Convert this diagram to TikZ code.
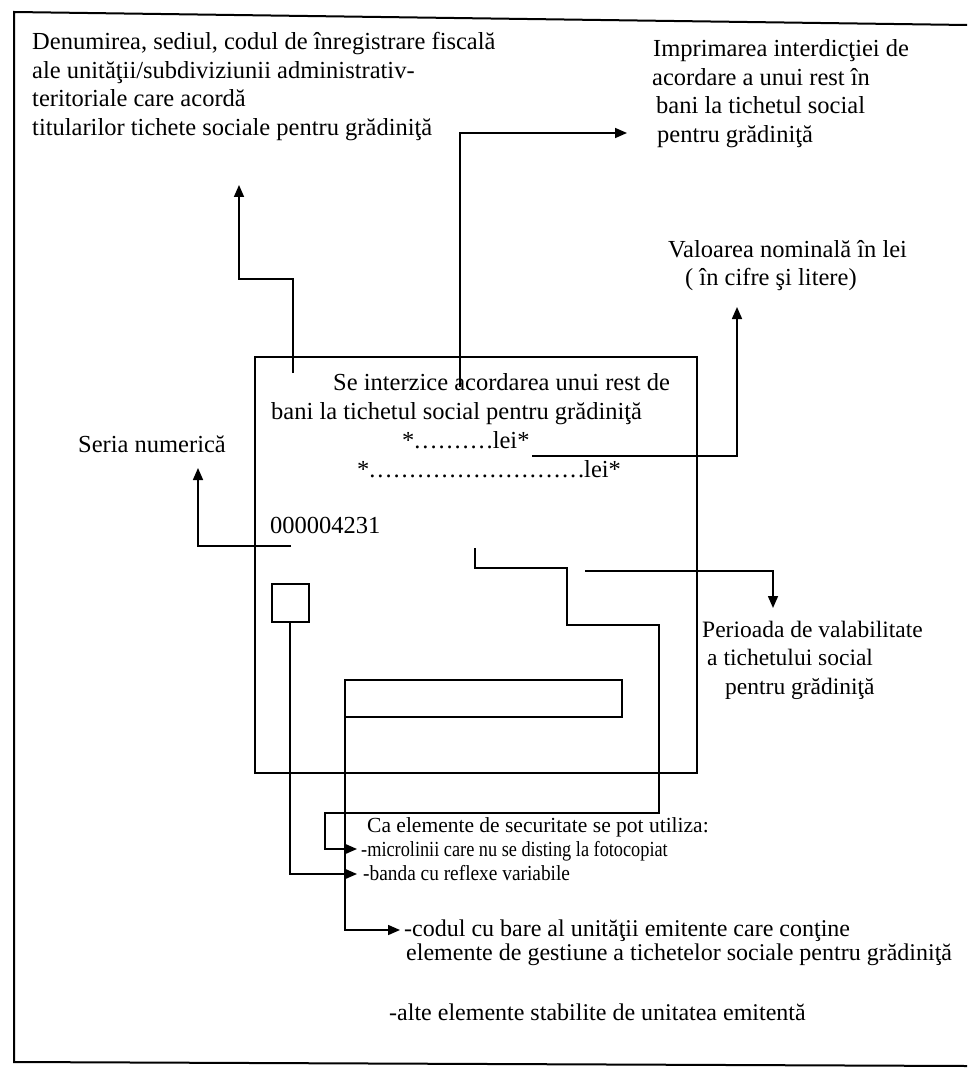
\documentclass[tikz,border=0pt]{standalone}
\usepackage{fontspec}
\usepackage{graphicx}
\setmainfont{Liberation Serif}
\usetikzlibrary{arrows.meta}
\newcommand{\dt}{.\kern1.9pt}
\begin{document}
\begin{tikzpicture}[x=1pt,y=-1pt,
 lbl/.style={anchor=base west,inner sep=0pt,font=\fontsize{24.5}{29}\selectfont},
 lblm/.style={lbl,font=\fontsize{23.5}{28}\selectfont},
 lblb/.style={lbl,font=\fontsize{21.5}{26}\selectfont},
 lblc/.style={lbl,font=\fontsize{24}{28}\selectfont},
 conn/.style={line width=1.6pt},
 arr/.style={conn,-{Triangle[length=12pt,width=10pt]}},
 framel/.style={line width=2pt},
 boxl/.style={line width=2pt},
]
\useasboundingbox (0,0) rectangle (967,1075);
% outer frame (open on the right)
\draw[framel] (967,25) -- (14,12) -- (14,1062) -- (967,1066);

% ticket
\draw[boxl] (255,357) rectangle (697,773);
\node[lbl] (t1) at (333,390) {Se interzice acordarea unui rest de};
\node[lbl] (t2) at (271,419) {bani la tichetul social pentru grădiniţă};
\node[lbl] (t3) at (402,448) {*\dt\dt\dt\dt\dt\dt\dt\dt\dt.lei*};
\node[lbl] (t4) at (357,477) {*\dt\dt\dt\dt\dt\dt\dt\dt\dt\dt\dt\dt\dt\dt\dt\dt\dt\dt\dt\dt\dt\dt\dt\dt\dt\dt.lei*};
\node[lbl] (t5) at (270,533) {000004231};
\draw[boxl] (272,584) rectangle (309,622);
\draw[boxl] (345,680) rectangle (622,717);

% labels
\node[lbl] (d1) at (32,50) {Denumirea, sediul, codul de înregistrare fiscală};
\node[lbl] (d2) at (32,79) {ale unităţii/subdiviziunii administrativ-};
\node[lbl] (d3) at (32,107) {teritoriale care acordă};
\node[lbl] (d4) at (32,136) {titularilor tichete sociale pentru grădiniţă};

\node[lbl] (i1) at (653,57) {Imprimarea interdicţiei de};
\node[lbl] (i2) at (652,86) {acordare a unui rest în};
\node[lbl] (i3) at (656,114) {bani la tichetul social};
\node[lbl] (i4) at (657,143) {pentru grădiniţă};

\node[lbl] (v1) at (668,257) {Valoarea nominală în lei};
\node[lbl] (v2) at (685,285) {( în cifre şi litere)};

\node[lbl] (s1) at (78,452) {Seria numerică};

\node[lblm] (p1) at (702,637) {Perioada de valabilitate};
\node[lblm] (p2) at (707,665) {a tichetului social};
\node[lblm] (p3) at (725,694) {pentru grădiniţă};

\node[lblb] (c1) at (367,832) {Ca elemente de securitate se pot utiliza:};
\node[lblb] (c2) at (361,856) {\scalebox{0.85}[1]{-microlinii care nu se disting la fotocopiat}};
\node[lblb] (c3) at (363,880) {\scalebox{0.9}[1]{-banda cu reflexe variabile}};
\node[lblc] (c4) at (404,936) {-codul cu bare al unităţii emitente care conţine};
\node[lblc] (c5) at (406,960) {elemente de gestiune a tichetelor sociale pentru grădiniţă};
\node[lblc] (c6) at (389,1020) {-alte elemente stabilite de unitatea emitentă};

% connectors
\coordinate (a0) at (293,373);
\coordinate (a1) at (239,185);
\draw[arr] (a0) |- (239,279) -- (a1);

\coordinate (b0) at (460,387);
\coordinate (b1) at (627,133);
\draw[arr] (b0) |- (b1);

\coordinate (e0) at (532,456);
\coordinate (e1) at (737,307);
\draw[arr] (e0) -| (e1);

\coordinate (f0) at (291,546);
\coordinate (f1) at (198,468);
\draw[arr] (f0) -| (f1);

\coordinate (g0) at (585,571);
\coordinate (g1) at (773,608);
\draw[arr] (g0) -| (g1);

\coordinate (h0) at (475,548);
\coordinate (h1) at (357,849);
\draw[arr] (h0) -- (475,568) -- (567,568) -- (567,625) -- (659,625) -- (659,813) -- (325,813) -- (325,849) -- (h1);

\coordinate (k0) at (290,622);
\coordinate (k1) at (357,874);
\draw[arr] (k0) |- (k1);

\coordinate (m0) at (345,717);
\coordinate (m1) at (400,930);
\draw[arr] (m0) |- (m1);
\end{tikzpicture}
\end{document}
